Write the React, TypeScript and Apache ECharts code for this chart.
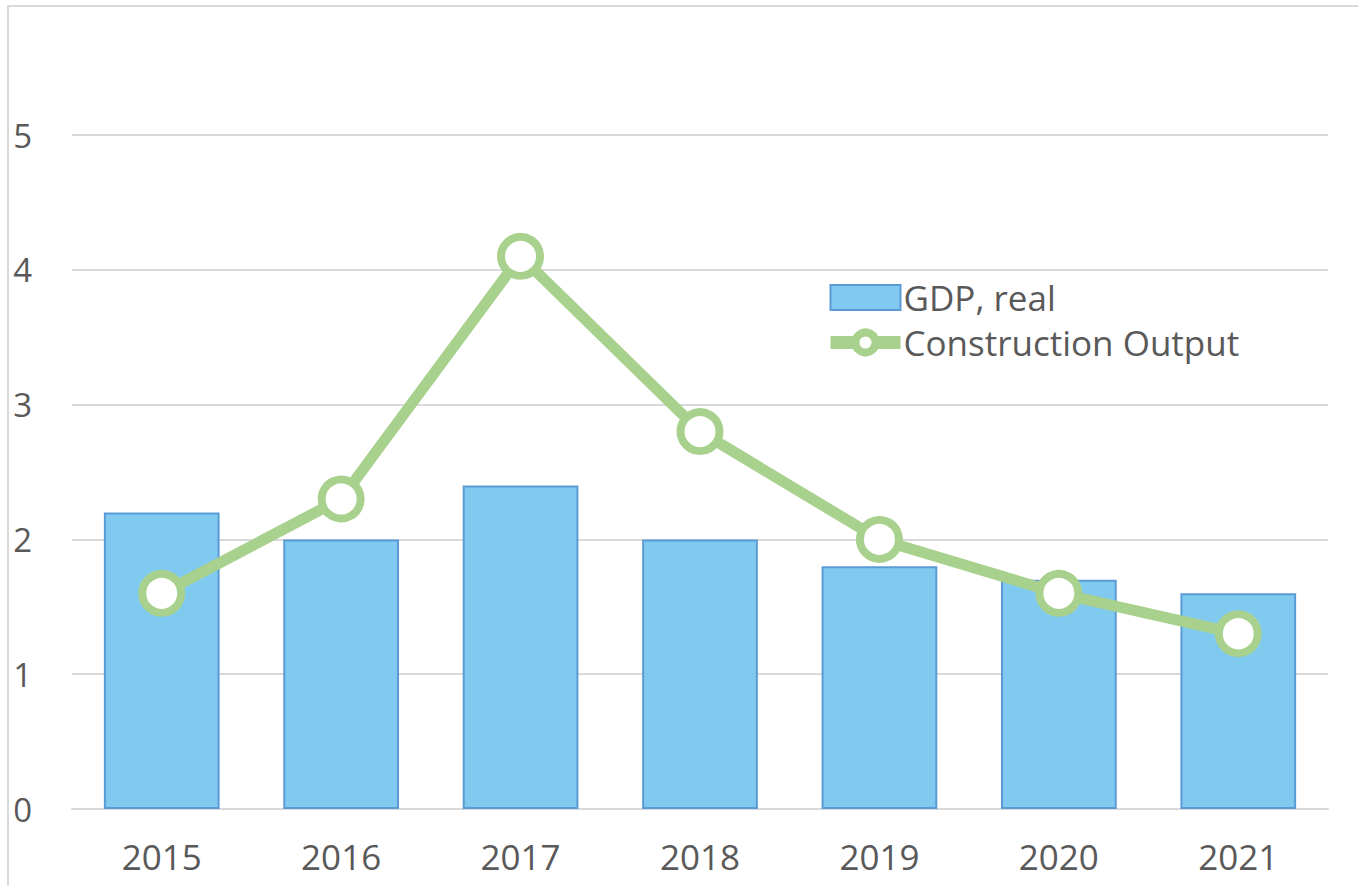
import React, { useEffect, useRef } from "react";
import * as echarts from "echarts";

const years = ["2015", "2016", "2017", "2018", "2019", "2020", "2021"];
const gdpReal = [2.2, 2.0, 2.4, 2.0, 1.8, 1.7, 1.6];
const constructionOutput = [1.6, 2.3, 4.1, 2.8, 2.0, 1.6, 1.3];

export default function App() {
  const ref = useRef<HTMLDivElement>(null);
  useEffect(() => {
    const chart = echarts.init(ref.current!, null, { renderer: "svg" });
    const font = "'Open Sans', 'Noto Sans', sans-serif";
    chart.setOption({
      animation: false,
      backgroundColor: "#ffffff",
      textStyle: { fontFamily: font },
      graphic: [
        {
          type: "rect",
          shape: { x: 8, y: 6, width: 1400, height: 900 },
          style: { fill: "none", stroke: "#d9d9d9", lineWidth: 2 },
          silent: true,
        },
      ],
      grid: { left: 72, right: 30, top: 135, bottom: 77, containLabel: false },
      legend: {
        orient: "vertical",
        left: 824,
        top: 280,
        padding: 0,
        itemWidth: 70,
        itemHeight: 25,
        itemGap: 10,
        textStyle: { fontSize: 35, color: "#595959", fontFamily: font, padding: [0, 0, 0, -2] },
        data: [
          {
            name: "GDP, real",
            icon: "rect",
            itemStyle: { color: "#80c9ef", borderColor: "#5b9bd5", borderWidth: 2 },
          },
          {
            name: "Construction Output",
            lineStyle: { color: "#a9d18e", width: 13 },
            itemStyle: { color: "#ffffff", borderColor: "#a9d18e", borderWidth: 8 },
          },
        ],
      },
      xAxis: {
        type: "category",
        data: years,
        axisLine: { show: true, lineStyle: { color: "#d9d9d9", width: 2 } },
        axisTick: { show: false },
        axisLabel: { fontSize: 35, color: "#595959", margin: 30, fontFamily: font },
      },
      yAxis: {
        type: "value",
        min: 0,
        max: 5,
        interval: 1,
        axisLine: { show: false },
        axisTick: { show: false },
        splitLine: { lineStyle: { color: "#d9d9d9", width: 2 } },
        axisLabel: { fontSize: 33, color: "#595959", margin: 40, fontFamily: font },
      },
      series: [
        {
          name: "GDP, real",
          type: "bar",
          data: gdpReal,
          barWidth: "64.5%",
          itemStyle: { color: "#80c9ef", borderColor: "#5b9bd5", borderWidth: 2 },
        },
        {
          name: "Construction Output",
          type: "line",
          data: constructionOutput,
          symbol: "circle",
          symbolSize: 39,
          lineStyle: { color: "#a9d18e", width: 11 },
          itemStyle: { color: "#ffffff", borderColor: "#a9d18e", borderWidth: 8 },
          z: 5,
        },
      ],
    });
    return () => chart.dispose();
  }, []);
  return (
    <div
      ref={ref}
      style={{ position: "absolute", left: 0, top: 0, width: 1358, height: 886 }}
    />
  );
}
